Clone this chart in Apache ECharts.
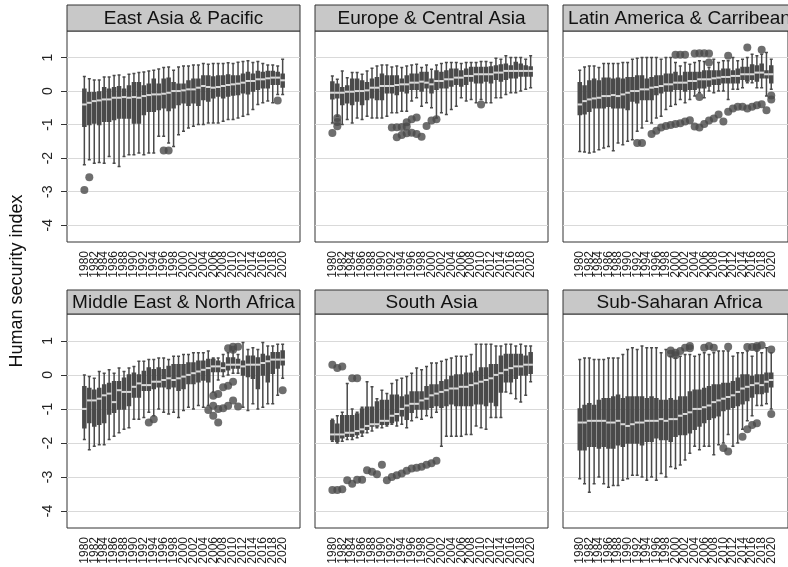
<!DOCTYPE html>
<html>
<head>
<meta charset="utf-8">
<script src="https://cdn.jsdelivr.net/npm/echarts@6/dist/echarts.min.js"></script>
<style>
  html, body { margin: 0; padding: 0; background: #fff; }
  #chart { width: 788px; height: 567px; }
</style>
</head>
<body>
<div id="chart"></div>
<script>
// categories
const years = ['1980','1981','1982','1983','1984','1985','1986','1987','1988','1989',
  '1990','1991','1992','1993','1994','1995','1996','1997','1998','1999',
  '2000','2001','2002','2003','2004','2005','2006','2007','2008','2009',
  '2010','2011','2012','2013','2014','2015','2016','2017','2018','2019','2020']
const padBefore = ['1977','1978','1979']
const padAfter = ['2021','2022','2023']
const yTicks = [-4, -3, -2, -1, 0, 1]
const regions = ['East Asia & Pacific', 'Europe & Central Asia', 'Latin America & Carribean',
  'Middle East & North Africa', 'South Asia', 'Sub-Saharan Africa']

// East Asia & Pacific
const eapHigh = [0.43,0.37,0.33,0.33,0.42,0.42,0.46,0.48,0.42,0.5, 0.52,0.55,0.57,0.6,0.62,0.66,0.7,0.72,0.62,0.72,
  0.75,0.75,0.78,0.78,0.82,0.8,0.82,0.82,0.82,0.84, 0.82,0.86,0.88,0.9,0.85,0.88,0.82,0.78,0.78,0.75, 0.95]
const eapQ3 = [0.05,-0.05,-0.05,-0.03,0.1,0.05,0.1,0.13,0.05,0.15, 0.25,0.25,0.15,0.2,0.35,0.2,0.35,0.38,0.25,0.2,
  0.2,0.3,0.35,0.35,0.45,0.45,0.42,0.45,0.45,0.48, 0.45,0.45,0.5,0.55,0.5,0.58,0.55,0.58,0.58,0.55, 0.5]
const eapMed = [-0.4,-0.35,-0.3,-0.28,-0.25,-0.25,-0.2,-0.2,-0.18,-0.2, -0.18,-0.2,-0.15,-0.12,-0.1,-0.1,-0.08,-0.05,0.0,0.0,
  0.02,0.05,0.05,0.1,0.15,0.12,0.1,0.12,0.15,0.18, 0.2,0.22,0.25,0.3,0.3,0.35,0.35,0.38,0.4,0.4, 0.32]
const eapQ1 = [-1.05,-1.0,-0.95,-1.0,-0.9,-0.9,-0.85,-0.8,-0.8,-0.8, -0.95,-0.95,-0.7,-0.6,-0.6,-0.55,-0.5,-0.58,-0.5,-0.4,
  -0.35,-0.42,-0.35,-0.42,-0.25,-0.3,-0.2,-0.15,-0.2,-0.15, -0.12,-0.1,-0.05,-0.08,0.0,0.05,0.1,0.1,0.2,0.2, 0.12]
const eapLow = [-2.2,-2.05,-2.15,-2.13,-2.15,-1.95,-2.15,-2.25,-1.95,-1.9, -1.9,-1.85,-1.9,-1.85,-1.85,-1.35,-1.35,-1.55,-1.65,-1.3,
  -1.2,-1.1,-1.05,-1.0,-1.0,-0.95,-0.95,-0.95,-0.9,-0.85, -0.85,-0.8,-0.75,-0.7,-0.55,-0.4,-0.35,-0.3,-0.35,-0.1, -0.1]
const eapOut = [['1980',-2.95],['1981',-2.57],['1996',-1.77],['1997',-1.77],['2019',-0.28]]

// Europe & Central Asia
const ecaHigh = [0.45,0.35,0.6,0.4,0.55,0.55,0.5,0.6,0.68,0.75, 0.78,0.78,0.72,0.75,0.7,0.75,0.78,0.8,0.7,0.78,
  0.65,0.78,0.82,0.85,0.85,0.85,0.82,0.85,0.85,0.85, 0.88,0.88,0.85,0.98,0.95,1.05,1.0,1.0,1.0,0.95, 1.05]
const ecaQ3 = [0.27,0.2,0.1,0.15,0.35,0.35,0.3,0.25,0.35,0.4, 0.5,0.45,0.45,0.45,0.35,0.45,0.5,0.5,0.55,0.55,
  0.35,0.6,0.55,0.6,0.65,0.65,0.6,0.65,0.7,0.7, 0.7,0.7,0.72,0.75,0.78,0.8,0.75,0.85,0.8,0.75, 0.72]
const ecaMed = [-0.05,-0.05,-0.05,-0.02,-0.02,0.0,0.0,0.02,0.1,0.1, 0.15,0.15,0.15,0.18,0.2,0.2,0.25,0.25,0.28,0.25,
  0.2,0.3,0.3,0.35,0.35,0.4,0.4,0.45,0.45,0.5, 0.5,0.5,0.5,0.55,0.55,0.6,0.6,0.6,0.6,0.6, 0.6]
const ecaQ1 = [-0.23,-0.2,-0.4,-0.35,-0.4,-0.3,-0.4,-0.25,-0.2,-0.25, -0.25,-0.05,-0.05,-0.1,0.0,-0.05,0.05,0.05,0.0,0.1,
  -0.05,0.05,0.1,0.1,0.15,0.2,0.15,0.2,0.3,0.25, 0.25,0.3,0.25,0.35,0.3,0.35,0.4,0.4,0.45,0.45, 0.45]
const ecaLow = [-0.95,-0.75,-1.0,-0.85,-0.95,-0.8,-0.85,-0.75,-0.8,-0.8, -0.8,-0.75,-0.65,-0.65,-0.6,-0.6,-0.3,-0.2,-0.45,-0.35,
  -0.5,-0.8,-0.65,-0.7,-0.55,-0.45,-0.2,-0.3,-0.25,-0.35, -0.25,-0.35,-0.35,-0.2,-0.2,-0.1,-0.05,-0.05,0.0,0.05, 0.1]
const ecaOut = [['1980',-1.25],['1981',-0.8],['1981',-0.92],['1981',-1.05],['1992',-1.09],['1993',-1.08],['1993',-1.38],
  ['1994',-1.07],['1994',-1.31],['1995',-1.06],['1995',-0.93],['1995',-1.26],['1996',-0.84],['1996',-1.24],
  ['1997',-0.79],['1997',-1.28],['1998',-1.36],['1999',-1.04],['2000',-0.88],['2001',-0.84],['2010',-0.4]]

// Latin America & Carribean
const lacHigh = [0.62,0.72,0.75,0.75,0.7,0.82,0.82,0.82,0.82,0.85, 0.85,0.95,0.98,1.0,1.0,1.0,1.0,0.95,1.0,1.0,
  0.85,0.75,0.85,0.8,0.85,0.9,0.88,0.7,0.95,0.85, 0.9,0.9,1.0,0.9,0.95,1.0,1.1,1.05,1.1,1.15, 0.95]
const lacQ3 = [0.25,0.15,0.3,0.35,0.3,0.38,0.38,0.35,0.38,0.35, 0.4,0.4,0.45,0.45,0.35,0.4,0.45,0.45,0.5,0.5,
  0.55,0.45,0.55,0.55,0.55,0.55,0.6,0.6,0.6,0.6, 0.65,0.65,0.6,0.65,0.7,0.7,0.78,0.75,0.8,0.6, 0.75]
const lacMed = [-0.4,-0.3,-0.25,-0.22,-0.2,-0.15,-0.15,-0.12,-0.15,-0.1, -0.05,0.0,0.0,0.05,0.05,0.1,0.12,0.15,0.2,0.2,
  0.25,0.25,0.25,0.3,0.3,0.35,0.35,0.35,0.38,0.4, 0.42,0.42,0.45,0.45,0.5,0.5,0.5,0.55,0.55,0.5, 0.5]
const lacQ1 = [-0.7,-0.68,-0.6,-0.5,-0.5,-0.5,-0.45,-0.5,-0.5,-0.5, -0.55,-0.3,-0.35,-0.25,-0.25,-0.25,-0.1,-0.05,0.0,0.0,
  0.05,0.05,0.0,0.05,0.05,0.1,0.1,0.15,0.2,0.2, 0.25,0.25,0.25,0.25,0.35,0.3,0.35,0.3,0.4,0.4, 0.25]
const lacLow = [-1.8,-1.82,-1.85,-1.82,-1.75,-1.7,-1.65,-1.78,-1.55,-1.6, -1.5,-1.45,-1.2,-1.1,-0.9,-0.95,-0.8,-0.75,-0.55,-0.45,
  -0.4,-0.25,-0.35,-0.25,-0.15,-0.05,-0.2,0.0,-0.05,0.0, 0.0,-0.25,0.05,0.05,0.1,0.25,0.25,0.1,0.1,-0.15, 0.05]
const lacOut = [['1992',-1.55],['1993',-1.55],['1995',-1.28],['1996',-1.18],['1997',-1.09],['1998',-1.04],['1999',-1.01],
  ['2000',-0.98],['2001',-0.96],['2002',-0.91],['2003',-0.87],['2004',-1.06],['2005',-1.09],['2006',-0.98],['2007',-0.88],
  ['2008',-0.82],['2009',-0.7],['2010',-0.91],['2011',-0.62],['2012',-0.52],['2013',-0.47],['2014',-0.47],['2015',-0.52],
  ['2016',-0.47],['2017',-0.42],['2018',-0.39],['2019',-0.57],['2020',-0.13],['2020',-0.25],
  ['2000',1.08],['2001',1.08],['2002',1.08],['2004',1.12],['2005',1.13],['2006',1.13],['2007',1.12],['2007',0.85],
  ['2005',-0.18],['2011',1.05],['2015',1.3],['2018',1.23]]

// Middle East & North Africa
const menaHigh = [0.0,-0.05,-0.1,0.1,0.05,0.15,0.05,0.2,0.1,0.2, 0.25,0.4,0.4,0.45,0.45,0.5,0.5,0.45,0.55,0.55,
  0.6,0.6,0.65,0.65,0.65,0.7,0.5,0.5,0.6,0.65, 0.7,0.6,0.95,0.75,0.8,0.75,0.95,0.85,0.85,0.9, 0.9]
const menaQ3 = [-0.35,-0.4,-0.45,-0.4,-0.3,-0.25,-0.2,-0.2,-0.1,0.0, 0.05,0.0,0.1,0.2,0.15,0.2,0.15,0.25,0.3,0.3,
  0.3,0.35,0.35,0.4,0.4,0.45,0.45,0.4,0.35,0.5, 0.5,0.45,0.4,0.55,0.55,0.5,0.6,0.55,0.65,0.65, 0.7]
const menaMed = [-1.0,-0.75,-0.75,-0.7,-0.6,-0.55,-0.8,-0.45,-0.5,-0.5, -0.35,-0.25,-0.3,-0.3,-0.2,-0.2,-0.15,-0.1,-0.15,-0.1,
  -0.05,0.0,0.05,0.1,0.15,0.2,0.25,0.25,0.2,0.3, 0.3,0.3,0.25,0.3,0.3,0.3,0.35,0.4,0.45,0.45, 0.45]
const menaQ1 = [-1.55,-1.4,-1.5,-1.45,-1.4,-1.15,-1.1,-1.0,-1.0,-0.9, -0.65,-0.65,-0.45,-0.45,-0.4,-0.35,-0.35,-0.4,-0.35,-0.45,
  -0.4,-0.25,-0.25,-0.2,-0.15,-0.2,0.1,0.1,0.1,0.15, 0.2,0.2,0.0,-0.05,-0.1,-0.4,0.0,-0.2,0.05,0.2, 0.3]
const menaLow = [-1.9,-2.2,-2.1,-2.05,-2.05,-1.9,-1.8,-1.7,-1.6,-1.55, -1.3,-1.3,-1.25,-1.1,-1.2,-1.0,-1.1,-1.15,-1.1,-1.25,
  -1.05,-0.95,-1.0,-0.9,-0.95,-0.9,-0.5,-0.15,-0.05,0.0, 0.05,0.05,-0.95,-1.05,-0.85,-1.0,-0.95,-0.85,-0.85,-0.6, -0.1]
const menaOut = [['1993',-1.4],['1994',-1.3],['2005',-1.03],['2006',-0.61],['2006',-0.91],['2006',-1.2],['2007',-0.56],
  ['2007',-1.0],['2007',-1.4],['2008',-0.36],['2008',-0.98],['2009',-0.32],['2009',-0.91],['2009',0.78],['2010',-0.2],
  ['2010',-0.75],['2010',0.83],['2010',0.74],['2011',-0.93],['2011',0.83],['2020',-0.45]]

// South Asia
const saHigh = [-1.3,-1.2,-1.1,-0.25,-1.0,-1.1,-0.95,-0.2,-0.35,-0.7, -0.45,-0.55,-0.25,-0.15,-0.1,-0.05,0.05,0.2,0.15,0.25,
  0.35,0.35,0.4,0.45,0.5,0.55,0.55,0.55,0.6,0.9, 0.9,0.9,0.9,0.85,0.85,0.9,0.9,0.85,0.9,0.85, 0.85]
const saQ3 = [-1.35,-1.45,-1.2,-1.2,-1.2,-1.15,-1.0,-0.95,-0.95,-0.8, -0.75,-0.75,-0.6,-0.6,-0.65,-0.6,-0.5,-0.5,-0.5,-0.35,
  -0.3,-0.3,-0.2,-0.15,-0.05,0.0,0.0,0.05,0.05,0.1, 0.2,0.2,0.3,0.3,0.55,0.6,0.6,0.6,0.6,0.55, 0.65]
const saMed = [-1.75,-1.75,-1.75,-1.7,-1.7,-1.65,-1.6,-1.5,-1.45,-1.45, -1.35,-1.35,-1.2,-1.15,-1.0,-0.9,-0.85,-0.85,-0.75,-0.7,
  -0.6,-0.55,-0.5,-0.45,-0.4,-0.4,-0.35,-0.35,-0.3,-0.25, -0.2,-0.15,-0.1,0.0,0.05,0.15,0.2,0.25,0.25,0.3, 0.3]
const saQ1 = [-1.9,-1.95,-1.85,-1.8,-1.8,-1.75,-1.7,-1.6,-1.5,-1.5, -1.45,-1.45,-1.4,-1.35,-1.2,-1.3,-1.1,-1.0,-1.0,-1.0,
  -0.95,-0.9,-0.95,-0.9,-0.85,-0.9,-0.9,-0.9,-0.9,-0.85, -0.85,-0.9,-0.8,-0.9,-0.5,-0.2,-0.2,-0.1,0.0,0.0, 0.05]
const saLow = [-1.95,-2.0,-1.95,-1.9,-1.9,-1.85,-1.8,-1.7,-1.65,-1.55, -1.55,-1.5,-1.45,-1.5,-1.45,-1.55,-1.35,-1.25,-1.3,-1.2,
  -1.25,-1.1,-2.1,-1.8,-1.8,-1.8,-1.8,-1.75,-1.75,-1.5, -1.55,-1.6,-1.25,-1.25,-1.25,-0.5,-0.55,-0.7,-0.8,-0.6, -0.2]
const saOut = [['1980',0.3],['1981',0.2],['1982',0.25],['1984',-0.1],['1985',-0.1],
  ['1980',-3.38],['1981',-3.38],['1982',-3.36],['1983',-3.1],['1984',-3.2],['1985',-3.08],['1986',-3.08],['1987',-2.8],
  ['1988',-2.85],['1989',-2.92],['1990',-2.64],['1991',-3.1],['1992',-3.0],['1993',-2.95],['1994',-2.9],['1995',-2.82],
  ['1996',-2.75],['1997',-2.73],['1998',-2.7],['1999',-2.64],['2000',-2.6],['2001',-2.52]]

// Sub-Saharan Africa
const ssaHigh = [0.45,0.5,0.5,0.45,0.45,0.45,0.5,0.5,0.5,0.6, 0.75,0.8,0.75,0.85,0.8,0.8,0.8,0.65,0.75,0.55,
  0.5,0.55,0.6,0.6,0.55,0.6,0.65,0.6,0.65,0.7, 0.7,0.7,0.55,0.65,0.65,0.7,0.55,0.7,0.65,0.8, 0.65]
const ssaQ3 = [-1.0,-0.9,-0.85,-0.9,-0.75,-0.7,-0.7,-0.65,-0.6,-0.7, -0.65,-0.65,-0.65,-0.65,-0.7,-0.65,-0.7,-0.75,-0.75,-0.7,
  -0.75,-0.65,-0.65,-0.5,-0.45,-0.45,-0.4,-0.35,-0.3,-0.3, -0.25,-0.25,-0.2,-0.1,0.0,0.0,-0.05,0.0,0.0,0.05, 0.05]
const ssaMed = [-1.4,-1.4,-1.35,-1.35,-1.35,-1.35,-1.4,-1.4,-1.35,-1.45, -1.5,-1.45,-1.4,-1.4,-1.35,-1.35,-1.35,-1.3,-1.35,-1.3,
  -1.3,-1.2,-1.15,-1.1,-1.0,-1.0,-0.95,-0.9,-0.8,-0.75, -0.7,-0.65,-0.6,-0.5,-0.4,-0.35,-0.3,-0.25,-0.3,-0.2, -0.15]
const ssaQ1 = [-2.2,-2.2,-2.1,-2.1,-2.15,-2.1,-2.15,-2.15,-2.05,-2.1, -2.0,-2.0,-2.0,-2.05,-1.95,-1.95,-1.85,-1.9,-1.9,-1.95,
  -1.8,-1.75,-1.75,-1.7,-1.6,-1.5,-1.4,-1.3,-1.25,-1.2, -1.05,-1.0,-0.95,-0.9,-0.85,-0.75,-0.65,-0.55,-0.55,-0.5, -0.35]
const ssaLow = [-3.05,-3.2,-3.45,-3.2,-3.0,-3.2,-3.3,-3.25,-3.25,-3.1, -3.05,-2.95,-2.95,-3.0,-3.1,-3.0,-3.1,-2.9,-3.0,-2.7,
  -2.75,-2.65,-2.5,-2.3,-2.1,-2.2,-2.1,-2.1,-2.35,-2.05, -2.0,-1.75,-2.1,-2.0,-1.6,-1.35,-1.2,-0.9,-0.9,-0.85, -1.0]
const ssaOut = [['1999',0.72],['1999',0.62],['2000',0.65],['2000',0.58],['2001',0.7],['2002',0.8],['2003',0.85],['2003',0.78],
  ['2006',0.8],['2007',0.85],['2008',0.8],['2011',0.83],['2015',0.82],['2016',0.82],['2017',0.8],['2017',0.85],['2018',0.87],
  ['2020',0.75],['2010',-2.15],['2011',-2.25],['2014',-1.82],['2015',-1.6],['2016',-1.47],['2017',-1.42],['2020',-1.15]]

const FONT = '"Liberation Sans", Arial, sans-serif'
const DARK = '#4a4a4a'
const cats = padBefore.concat(years, padAfter)

const panels = [
  { title: regions[0], low: eapLow, q1: eapQ1, med: eapMed, q3: eapQ3, high: eapHigh, out: eapOut },
  { title: regions[1], low: ecaLow, q1: ecaQ1, med: ecaMed, q3: ecaQ3, high: ecaHigh, out: ecaOut },
  { title: regions[2], low: lacLow, q1: lacQ1, med: lacMed, q3: lacQ3, high: lacHigh, out: lacOut },
  { title: regions[3], low: menaLow, q1: menaQ1, med: menaMed, q3: menaQ3, high: menaHigh, out: menaOut },
  { title: regions[4], low: saLow, q1: saQ1, med: saMed, q3: saQ3, high: saHigh, out: saOut },
  { title: regions[5], low: ssaLow, q1: ssaQ1, med: ssaMed, q3: ssaQ3, high: ssaHigh, out: ssaOut }
]

// panel layout (px)
const colLeft = [67, 315, 563]
const panelW = 233
const rowTop = [31, 314]
const rowH = [211, 214]
const barTop = [5, 290]

// only even years between 1980 and 2020 get a label
const yearLabel = v => (+v >= 1980 && +v <= 2020 && +v % 2 === 0) ? v : ''

const grid = [], xAxis = [], yAxis = [], series = [], graphic = []

panels.forEach((p, i) => {
  const col = i % 3
  const row = Math.floor(i / 3)
  grid.push({
    left: colLeft[col], top: rowTop[row], width: panelW, height: rowH[row],
    show: true, borderColor: '#333', borderWidth: 1, backgroundColor: '#fff'
  })
  xAxis.push({
    gridIndex: i, type: 'category', data: cats, boundaryGap: true,
    axisLine: { show: false }, axisTick: { show: false }, splitLine: { show: false },
    axisLabel: {
      interval: 0, formatter: yearLabel, hideOverlap: false,
      rotate: 90, fontSize: 12, margin: 9, color: '#222', fontFamily: FONT
    }
  })
  yAxis.push({
    gridIndex: i, type: 'value', min: -4.5, max: 1.79,
    axisLine: { show: false },
    axisTick: { show: col === 0, length: 6, customValues: yTicks, lineStyle: { color: '#333' } },
    axisLabel: { show: col === 0, customValues: yTicks, rotate: 90, fontSize: 14, margin: 12, color: '#222', fontFamily: FONT },
    splitLine: { show: true, lineStyle: { color: '#d9d9d9', width: 1 } }
  })
  series.push({
    type: 'boxplot', xAxisIndex: i, yAxisIndex: i, silent: true,
    data: years.map((y, k) => [y, p.low[k], p.q1[k], p.med[k], p.q3[k], p.high[k]]),
    encode: { x: 0, y: [1, 2, 3, 4, 5] },
    boxWidth: [3, 3],
    itemStyle: { color: DARK, borderColor: DARK, borderWidth: 1.5 }
  })
  series.push({
    type: 'scatter', xAxisIndex: i, yAxisIndex: i, silent: true, z: 5,
    symbol: 'rect', symbolSize: [4.5, 2],
    data: years.map((y, k) => [y, p.med[k]]),
    itemStyle: { color: '#fff' }
  })
  series.push({
    type: 'scatter', xAxisIndex: i, yAxisIndex: i, silent: true, z: 6,
    symbolSize: 8, data: p.out,
    itemStyle: { color: DARK }
  })
  graphic.push({
    type: 'rect', z: 10,
    shape: { x: colLeft[col], y: barTop[row], width: panelW, height: rowTop[row] - barTop[row] },
    style: { fill: '#c8c8c8', stroke: '#333', lineWidth: 1 }
  })
  graphic.push({
    type: 'text', z: 11,
    x: colLeft[col] + panelW / 2, y: (barTop[row] + rowTop[row]) / 2 + 1,
    style: { text: p.title, font: '19px ' + FONT, fill: '#111', align: 'center', verticalAlign: 'middle' }
  })
})

graphic.push({
  type: 'text', x: 17, y: 281, rotation: Math.PI / 2,
  style: { text: 'Human security index', font: '18px ' + FONT, fill: '#111', align: 'center', verticalAlign: 'middle' }
})

const chart = echarts.init(document.getElementById('chart'))
chart.setOption({
  animation: false,
  backgroundColor: '#fff',
  grid, xAxis, yAxis, series, graphic
})
</script>
</body>
</html>
